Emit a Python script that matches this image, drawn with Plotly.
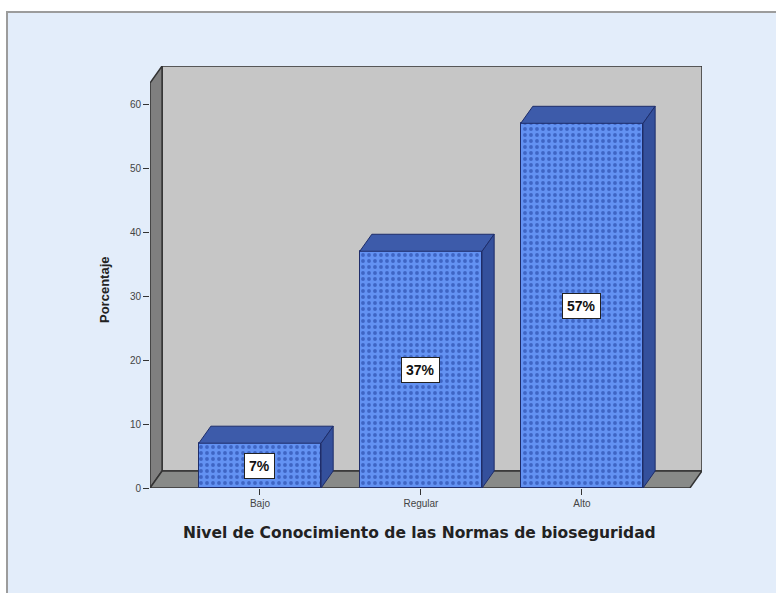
import plotly.graph_objects as go

# Chart data
categories = ["Bajo", "Regular", "Alto"]
percentages = [7, 37, 57]
y_ticks = [0, 10, 20, 30, 40, 50, 60]
x_title = "Nivel de Conocimiento de las Normas de bioseguridad"
y_title = "Porcentaje"

# 3D box geometry, expressed in axis units
BAR_W = 0.76          # width of each bar's front face
DX = 0.075            # depth offset along x
DY = 2.66             # depth offset along y
X_MIN = -0.683        # front-left edge of the box
X_FRONT_MAX = 2.671   # front-right edge of the floor
X_MAX = X_FRONT_MAX + DX
Y_FRONT_TOP = 63.3
Y_MAX = Y_FRONT_TOP + DY

FONT = "Liberation Sans, Arial, sans-serif"
TITLE_FONT = "DejaVu Sans, Verdana, sans-serif"
FRONT = "#6392F2"
DOTS = "#1A3896"
TOP = "#3D5BAA"
SIDE = "#34509C"
EDGE = "#1E2D6A"

xs = list(range(len(categories)))

fig = go.Figure()

# front faces of the bars, dotted fill
fig.add_trace(go.Bar(
    x=xs, y=percentages, width=BAR_W,
    marker=dict(
        color=FRONT,
        line=dict(color=EDGE, width=1),
        pattern=dict(shape=".", fgcolor=DOTS, bgcolor=FRONT, size=6, solidity=0.32),
    ),
    hoverinfo="skip", showlegend=False,
))

# top and right faces of each bar
for x, v in zip(xs, percentages):
    xl, xr = x - BAR_W / 2, x + BAR_W / 2
    fig.add_trace(go.Scatter(
        x=[xl, xl + DX, xr + DX, xr, xl],
        y=[v, v + DY, v + DY, v, v],
        mode="lines", fill="toself", fillcolor=TOP,
        line=dict(color=EDGE, width=1), hoverinfo="skip", showlegend=False,
    ))
    fig.add_trace(go.Scatter(
        x=[xr, xr + DX, xr + DX, xr, xr],
        y=[0, DY, v + DY, v, 0],
        mode="lines", fill="toself", fillcolor=SIDE,
        line=dict(color=EDGE, width=1), hoverinfo="skip", showlegend=False,
    ))

# value labels in the middle of each bar
annotations = []
for x, v in zip(xs, percentages):
    annotations.append(dict(
        x=x, y=v / 2, xref="x", yref="y", text=f"<b>{v}%</b>", showarrow=False,
        font=dict(family=FONT, size=14, color="#111111"),
        bgcolor="#FFFFFF", bordercolor="#222222", borderwidth=1, borderpad=4,
    ))

plot_w, plot_h = 552, 422
annotations.append(dict(
    x=(X_MIN + X_FRONT_MAX) / 2, xref="x", y=-45 / plot_h, yref="paper",
    text=f"<b>{x_title}</b>", showarrow=False, xanchor="center", yanchor="middle",
    font=dict(family=TITLE_FONT, size=15.5, color="#222222"),
))
annotations.append(dict(
    x=-46 / plot_w, xref="paper", y=198 / plot_h, yref="paper",
    text=f"<b>{y_title}</b>", showarrow=False, textangle=-90,
    xanchor="center", yanchor="middle",
    font=dict(family=FONT, size=13, color="#222222"),
))

shapes = [
    # outer panel
    dict(type="rect", xref="paper", yref="paper",
         x0=-143 / plot_w, x1=640 / plot_w, y0=-112 / plot_h, y1=476 / plot_h,
         fillcolor="#E3EDFA", line=dict(color="#9C9C9C", width=2), layer="below"),
    # back wall
    dict(type="rect", xref="x", yref="y", x0=X_MIN + DX, x1=X_MAX, y0=DY, y1=Y_MAX,
         fillcolor="#C6C6C6", line=dict(color="#333333", width=1.5), layer="below"),
    # left wall
    dict(type="path", xref="x", yref="y",
         path=f"M{X_MIN},0 L{X_MIN + DX},{DY} L{X_MIN + DX},{Y_MAX} L{X_MIN},{Y_FRONT_TOP} Z",
         fillcolor="#7F7F7F", line=dict(color="#333333", width=1.5), layer="below"),
    # floor
    dict(type="path", xref="x", yref="y",
         path=f"M{X_MIN},0 L{X_FRONT_MAX},0 L{X_MAX},{DY} L{X_MIN + DX},{DY} Z",
         fillcolor="#888A88", line=dict(color="#333333", width=1.5), layer="below"),
]

fig.update_layout(
    width=776, height=593,
    margin=dict(l=150, r=74, t=66, b=105, autoexpand=False),
    paper_bgcolor="#FFFFFF", plot_bgcolor="rgba(0,0,0,0)",
    font=dict(family=FONT),
    bargap=0,
    xaxis=dict(
        range=[X_MIN, X_MAX], tickvals=xs, ticktext=categories,
        ticks="outside", ticklen=6, tickcolor="#333333", tickwidth=1,
        showgrid=False, zeroline=False, showline=False, fixedrange=True,
        tickfont=dict(family=FONT, size=10, color="#444444"),
    ),
    yaxis=dict(
        range=[0, Y_MAX], tickvals=y_ticks,
        ticks="outside", ticklen=6, tickcolor="#333333", tickwidth=1,
        showgrid=False, zeroline=False, showline=False, fixedrange=True,
        tickfont=dict(family=FONT, size=10, color="#444444"),
    ),
    shapes=shapes,
    annotations=annotations,
)

fig.write_html("out.html")
